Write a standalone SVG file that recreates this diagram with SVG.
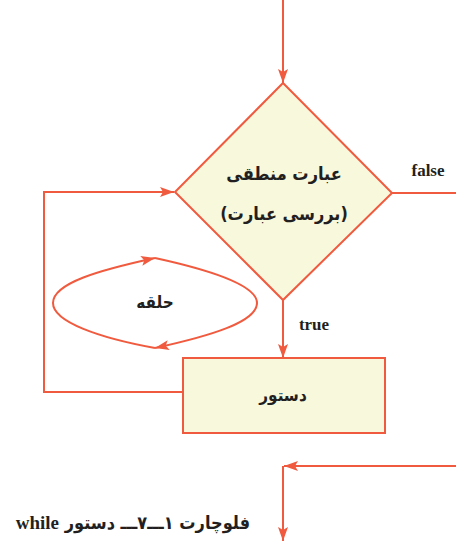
<svg xmlns="http://www.w3.org/2000/svg" width="456" height="544" viewBox="0 0 456 544">
<style>
.ln{fill:none;stroke:#f05a3e;stroke-width:2}
.nd{fill:#f8f8dd;stroke:#f05a3e;stroke-width:2}
.t{font-family:"Liberation Serif","DejaVu Sans",serif;font-weight:bold;fill:#231f20}
.fa{font-family:"DejaVu Sans Condensed","DejaVu Sans",sans-serif;font-weight:bold;fill:#231f20}
</style>
<defs>
<marker id="ah" markerWidth="14" markerHeight="10" refX="14" refY="5" orient="auto" markerUnits="userSpaceOnUse">
<path d="M0,0 L14,5 L0,10 L3,5 Z" fill="#f05a3e"/>
</marker>
</defs>
<rect width="456" height="544" fill="#ffffff"/>
<g id="connectors">
<line class="ln" x1="283" y1="0" x2="283" y2="83" marker-end="url(#ah)"/>
<line class="ln" x1="392" y1="193" x2="456" y2="193"/>
<line class="ln" x1="283" y1="300" x2="283" y2="358" marker-end="url(#ah)"/>
<path class="ln" d="M183,392 H44 V192 H174" marker-end="url(#ah)"/>
<path class="ln" d="M456,466 H284" marker-end="url(#ah)"/>
<path class="ln" d="M283,466 V541" marker-end="url(#ah)"/>
<text class="t" x="428" y="176" font-size="17" text-anchor="middle">false</text>
<text class="t" x="314" y="330" font-size="17" text-anchor="middle">true</text>
</g>
<g id="decision">
<polygon class="nd" points="283,83 392,193 283,300 175,192"/>
<text class="fa" x="284" y="180" font-size="18" text-anchor="middle" direction="rtl">عبارت منطقی</text>
<text class="fa" x="284" y="220" font-size="18" text-anchor="middle" direction="rtl">(بررسی عبارت)</text>
</g>
<g id="loop">
<path class="ln" d="M155,348 C100,338 53,322 53,303 C53,283 100,270 155,258" marker-end="url(#ah)"/>
<path class="ln" d="M155,258 C210,270 257,285 257,303 C257,322 210,336 155,348" marker-end="url(#ah)"/>
<text class="fa" x="155" y="308" font-size="17" text-anchor="middle" direction="rtl">حلقه</text>
</g>
<g id="statement">
<rect class="nd" x="183" y="358" width="202" height="75"/>
<text class="fa" x="283" y="401" font-size="17" text-anchor="middle" direction="rtl">دستور</text>
</g>
<g id="caption">
<text class="fa" x="250" y="529" font-size="18" text-anchor="start" direction="rtl">فلوچارت ١ـــ٧ـــ دستور <tspan class="t" font-size="19">while</tspan></text>
</g>
</svg>
